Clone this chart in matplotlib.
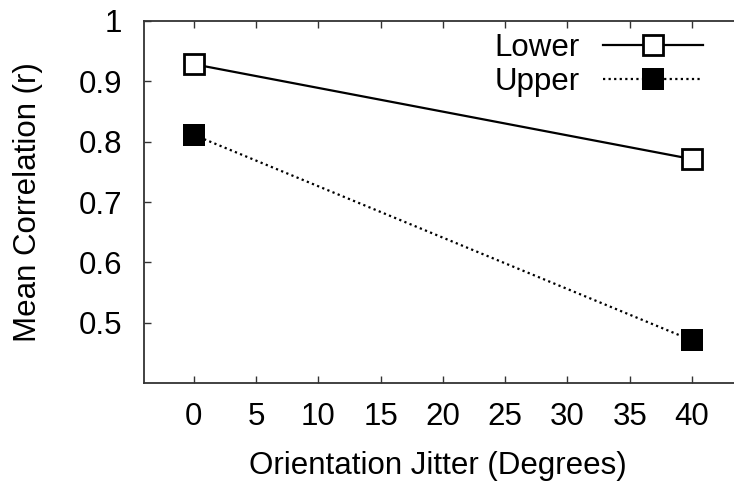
import matplotlib
matplotlib.use("Agg")
import matplotlib.pyplot as plt

plt.rcParams['font.family'] = ['Liberation Sans', 'DejaVu Sans']

jitter = [0, 40]
lower = [0.928, 0.771]
upper = [0.811, 0.471]
xticks = [0, 5, 10, 15, 20, 25, 30, 35, 40]
yticks = [0.5, 0.6, 0.7, 0.8, 0.9, 1.0]
yticklabels = ["0.5", "0.6", "0.7", "0.8", "0.9", "1"]

FS = 22.5
W, H = 734, 487
fig = plt.figure(figsize=(W / 100, H / 100), dpi=100)
ax_left, ax_top, ax_bottom = 144, 20.7, 383.3
ppu = (692 - 144) / 44.0
ax_w = 48 * ppu
ax = fig.add_axes([ax_left / W, 1 - ax_bottom / H, ax_w / W, (ax_bottom - ax_top) / H])

ax.plot(jitter, lower, color='black', lw=1.6, marker='s', markersize=14.5,
        markerfacecolor='white', markeredgecolor='black', markeredgewidth=2.0,
        label='Lower', clip_on=False)
ax.plot(jitter, upper, color='black', lw=1.6, linestyle=(0, (1, 1.5)), marker='s',
        markersize=15.8, markerfacecolor='black', markeredgewidth=0,
        label='Upper', clip_on=False)

ax.set_xlim(-4, 44)
ax.set_ylim(0.4, 1.0)
ax.set_xticks(xticks)
ax.set_xticklabels([str(t) for t in xticks])
ax.set_yticks(yticks)
ax.set_yticklabels(yticklabels)
ax.tick_params(direction='in', length=5, width=1, colors='#333333',
               labelcolor='black', labelsize=FS)
ax.tick_params(axis='x', top=True, pad=13.5)
ax.tick_params(axis='y', right=True, pad=15.5)
for s in ax.spines.values():
    s.set_linewidth(1.3)
    s.set_color('#333333')

ax.set_xlabel('Orientation Jitter (Degrees)', fontsize=FS, va='center')
ax.xaxis.set_label_coords((438 - ax_left) / ax_w, -(466 - ax_bottom) / (ax_bottom - ax_top))
ax.set_ylabel('Mean Correlation (r)', fontsize=FS, va='center')
ax.yaxis.set_label_coords((28 - ax_left) / ax_w, 0.5)

leg = ax.legend(loc='upper right', bbox_to_anchor=(703 / W, 1 - 32.5 / H),
                bbox_transform=fig.transFigure, frameon=False, markerfirst=False,
                fontsize=FS, handlelength=3.2, handletextpad=0.75, labelspacing=0.14,
                borderpad=0, borderaxespad=0)

fig.savefig('out.png', dpi=100)
